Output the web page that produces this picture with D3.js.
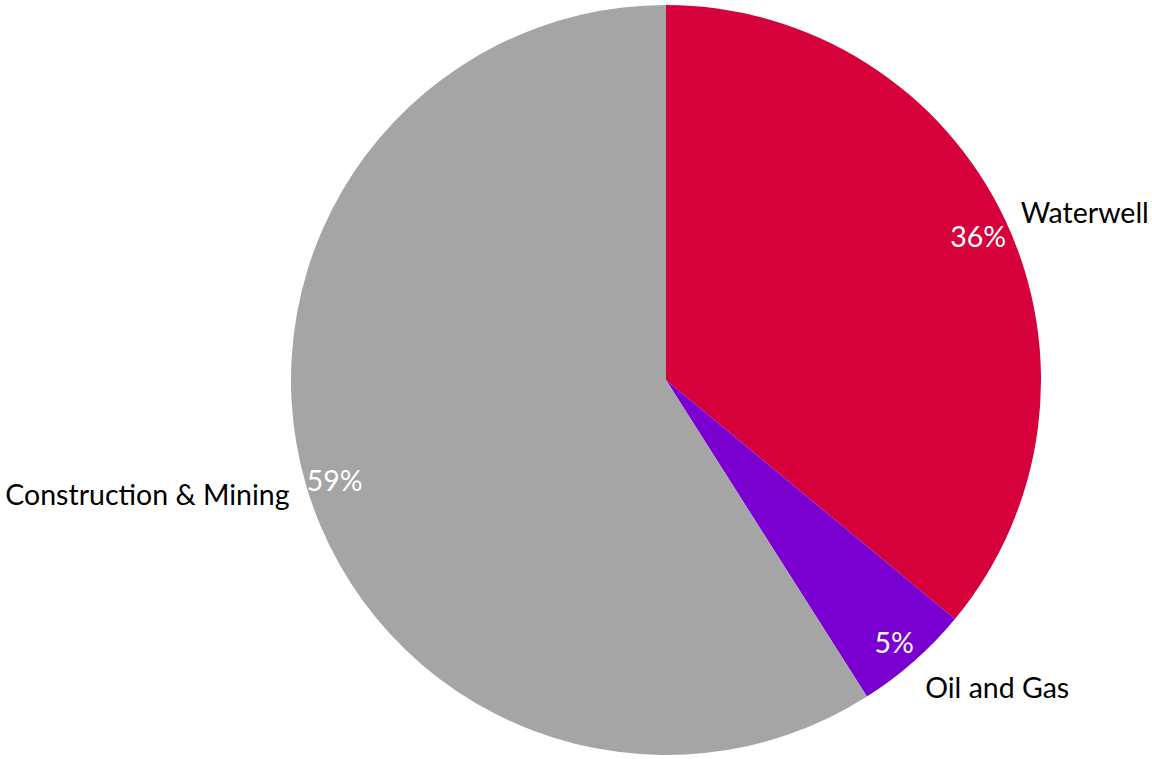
<!DOCTYPE html>
<html>
<head>
<meta charset="utf-8">
<script src="https://cdn.jsdelivr.net/npm/d3@7"></script>
<style>
  html, body { margin: 0; padding: 0; background: #fff; }
</style>
</head>
<body>
<div id="chart"></div>
<script>
// Slice names and their shares (percent).
const categories = ["Waterwell", "Oil and Gas", "Construction & Mining"];
const shares = [36, 5, 59];
const pctLabels = ["36%", "5%", "59%"];

const w = 1152, h = 759;
const cx = 666, cy = 380, r = 375;

const colors = d3.scaleOrdinal()
    .domain(categories)
    .range(["#d6003b", "#7a00d2", "#a5a5a5"]);

const svg = d3.select("#chart")
    .append("svg")
    .attr("width", w)
    .attr("height", h);

const g = svg.append("g").attr("transform", `translate(${cx},${cy})`);

const pie = d3.pie().sort(null).value(d => d.value);
const slices = pie(categories.map((c, i) => ({ name: c, value: shares[i], label: pctLabels[i] })));

const arc = d3.arc().innerRadius(0).outerRadius(r);
// Percent labels sit just inside the rim, names just outside.
const pctArc = d3.arc().innerRadius(345).outerRadius(345);
const nameArc = d3.arc().innerRadius(392).outerRadius(392);

g.selectAll("path")
    .data(slices)
    .enter()
    .append("path")
    .attr("d", arc)
    .attr("fill", d => colors(d.data.name));

const font = "Lato, 'Open Sans', sans-serif";

g.selectAll("text.pct")
    .data(slices)
    .enter()
    .append("text")
    .attr("class", "pct")
    .attr("transform", d => `translate(${pctArc.centroid(d)})`)
    .attr("text-anchor", "middle")
    .attr("dy", "0.5em")
    .attr("fill", "#fff")
    .attr("font-family", font)
    .attr("font-size", 28.5)
    .text(d => d.data.label);

g.selectAll("text.name")
    .data(slices)
    .enter()
    .append("text")
    .attr("class", "name")
    .attr("transform", d => {
        const [x, y] = nameArc.centroid(d);
        // small nudges so the names sit where the original has them
        const mid = (d.startAngle + d.endAngle) / 2;
        const off = y > 250 ? 14 : (mid > Math.PI ? 6 : 0);
        return `translate(${x},${y + off})`;
    })
    .attr("text-anchor", d => (d.startAngle + d.endAngle) / 2 < Math.PI ? "start" : "end")
    .attr("dy", "0.35em")
    .attr("fill", "#000")
    .attr("font-family", font)
    .attr("font-size", 28.5)
    .text(d => d.data.name);
</script>
</body>
</html>
